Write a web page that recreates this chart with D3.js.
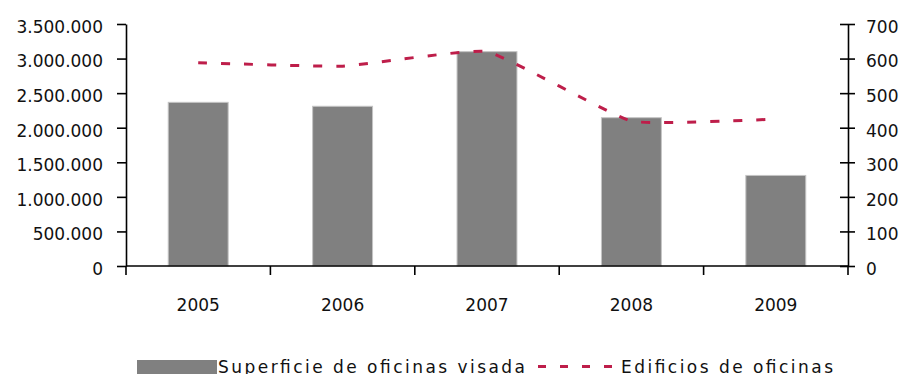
<!DOCTYPE html>
<html>
<head>
<meta charset="utf-8">
<script src="https://cdn.jsdelivr.net/npm/d3@7"></script>
<style>
  html, body { margin: 0; padding: 0; background: #fff; }
  svg { display: block; }
  text { font-family: "DejaVu Sans", Verdana, sans-serif; fill: #111; }
</style>
</head>
<body>
<svg id="chart" width="899" height="374"></svg>
<script>
// Office permits: built surface (bars, left axis) and number of buildings (line, right axis)
const years = ["2005", "2006", "2007", "2008", "2009"];
const superficie = [2367000, 2310000, 3100000, 2145000, 1310000];
const edificios = [588, 578, 620, 419, 425];
const leftTicks = [0, 500000, 1000000, 1500000, 2000000, 2500000, 3000000, 3500000];
const rightTicks = [0, 100, 200, 300, 400, 500, 600, 700];
const seriesNames = ["Superficie de oficinas visada", "Edificios de oficinas"];

const svg = d3.select("#chart");
const plot = { left: 126, right: 848, top: 24, bottom: 266 };
const axisColor = "#000";
const barColor = "#808080";
const lineColor = "#BE1E4A";

const esLocale = d3.formatLocale({ decimal: ",", thousands: ".", grouping: [3], currency: ["", "€"] });
const fmt = esLocale.format(",d");

const x = d3.scaleBand()
  .domain(years)
  .range([plot.left, plot.right])
  .paddingInner(0.585)
  .paddingOuter(0.2925);

const yL = d3.scaleLinear().domain([0, 3500000]).range([plot.bottom, plot.top]);
const yR = d3.scaleLinear().domain([0, 700]).range([plot.bottom, plot.top]);

// Bars
svg.append("g").selectAll("rect")
  .data(years)
  .join("rect")
  .attr("x", d => x(d))
  .attr("width", x.bandwidth())
  .attr("y", (d, i) => yL(superficie[i]))
  .attr("height", (d, i) => yL(0) - yL(superficie[i]))
  .attr("fill", barColor)
  .attr("stroke", "#c4c4c4")
  .attr("stroke-width", 1);

// Lightly smoothed dashed line (short control arms, rounded corners)
const line = d3.line()
  .x((d, i) => x(years[i]) + x.bandwidth() / 2)
  .y(d => yR(d))
  .curve(d3.curveCardinal.tension(0.65));

svg.append("path")
  .datum(edificios)
  .attr("d", line)
  .attr("fill", "none")
  .attr("stroke", lineColor)
  .attr("stroke-width", 3)
  .attr("stroke-dasharray", "9,14");

// Left axis
const gL = svg.append("g")
  .attr("transform", `translate(${plot.left},0)`)
  .call(d3.axisLeft(yL).tickValues(leftTicks).tickFormat(fmt).tickSizeInner(9).tickSizeOuter(0).tickPadding(14));
gL.selectAll("text").attr("dy", "0.49em").style("font-size", "17px").style("font-family", "DejaVu Sans, Verdana, sans-serif");

// Right axis with ticks crossing the line
const gR = svg.append("g")
  .attr("transform", `translate(${plot.right},0)`)
  .call(d3.axisRight(yR).tickValues(rightTicks).tickSizeInner(7).tickSizeOuter(0).tickPadding(11));
gR.selectAll(".tick line").attr("x1", -8);
gR.selectAll("text").attr("dy", "0.49em").style("font-size", "17px").style("font-family", "DejaVu Sans, Verdana, sans-serif");

[gL, gR].forEach(g => {
  g.selectAll("path, line").attr("stroke", axisColor).attr("stroke-width", 1.6);
  g.selectAll("text").attr("fill", "#111");
});

// Category axis with ticks between categories
const gap = x.step() - x.bandwidth();
const bounds = years.map(d => x(d) - gap / 2).concat([x(years[years.length - 1]) + x.bandwidth() + gap / 2]);
const gX = svg.append("g");
gX.append("line")
  .attr("x1", plot.left).attr("x2", plot.right)
  .attr("y1", plot.bottom).attr("y2", plot.bottom)
  .attr("stroke", axisColor).attr("stroke-width", 1.6);
gX.selectAll("line.tk")
  .data(bounds)
  .join("line")
  .attr("class", "tk")
  .attr("x1", d => d).attr("x2", d => d)
  .attr("y1", plot.bottom).attr("y2", plot.bottom + 9)
  .attr("stroke", axisColor).attr("stroke-width", 1.6);
gX.selectAll("text")
  .data(years)
  .join("text")
  .attr("x", d => x(d) + x.bandwidth() / 2)
  .attr("y", 311)
  .attr("text-anchor", "middle")
  .style("font-size", "17px")
  .text(d => d);

// Legend
const lg = svg.append("g");
lg.append("rect")
  .attr("x", 137).attr("y", 360).attr("width", 80).attr("height", 20)
  .attr("fill", barColor);
lg.append("text")
  .attr("x", 218).attr("y", 373)
  .attr("textLength", 307).attr("lengthAdjust", "spacing")
  .style("font-size", "17px")
  .text(seriesNames[0]);
lg.append("line")
  .attr("x1", 538).attr("x2", 618).attr("y1", 366.5).attr("y2", 366.5)
  .attr("stroke", lineColor).attr("stroke-width", 3)
  .attr("stroke-dasharray", "8,14");
lg.append("text")
  .attr("x", 621).attr("y", 373)
  .attr("textLength", 212).attr("lengthAdjust", "spacing")
  .style("font-size", "17px")
  .text(seriesNames[1]);
</script>
</body>
</html>
